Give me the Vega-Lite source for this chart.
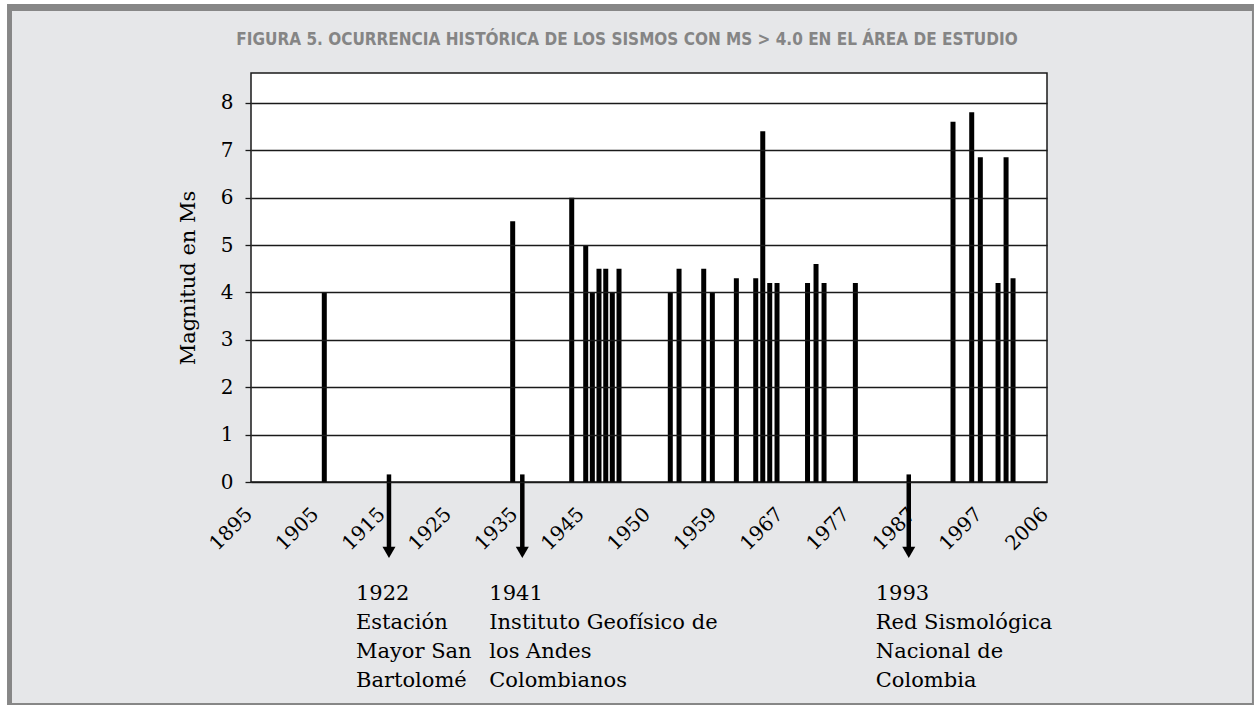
{
  "$schema": "https://vega.github.io/schema/vega-lite/v6.json",
  "autosize": "none",
  "width": 796,
  "height": 409,
  "padding": {"left": 251, "top": 73, "right": 207, "bottom": 223},
  "background": "#ffffff",
  "config": {
    "view": {"stroke": "#1a1a1a", "strokeWidth": 1.5},
    "font": "DejaVu Serif"
  },
  "title": {
    "text": "FIGURA 5. OCURRENCIA HISTÓRICA DE LOS SISMOS CON MS > 4.0 EN EL ÁREA DE ESTUDIO",
    "font": "DejaVu Sans Condensed, Liberation Sans Narrow, DejaVu Sans",
    "fontSize": 17,
    "fontWeight": "bold",
    "color": "#858585",
    "anchor": "middle",
    "frame": "group",
    "baseline": "alphabetic",
    "offset": -58,
    "dx": -22,
    "zindex": 2
  },
  "datasets": {
    "quakes": [
      {"pos": 1.105, "ms": 4.0},
      {"pos": 3.945, "ms": 5.5},
      {"pos": 4.835, "ms": 6.0},
      {"pos": 5.046, "ms": 5.0},
      {"pos": 5.146, "ms": 4.0},
      {"pos": 5.246, "ms": 4.5},
      {"pos": 5.348, "ms": 4.5},
      {"pos": 5.447, "ms": 4.0},
      {"pos": 5.548, "ms": 4.5},
      {"pos": 6.321, "ms": 4.0},
      {"pos": 6.453, "ms": 4.5},
      {"pos": 6.825, "ms": 4.5},
      {"pos": 6.955, "ms": 4.0},
      {"pos": 7.317, "ms": 4.3},
      {"pos": 7.609, "ms": 4.3},
      {"pos": 7.715, "ms": 7.4},
      {"pos": 7.82, "ms": 4.2},
      {"pos": 7.93, "ms": 4.2},
      {"pos": 8.39, "ms": 4.2},
      {"pos": 8.518, "ms": 4.6},
      {"pos": 8.639, "ms": 4.2},
      {"pos": 9.111, "ms": 4.2},
      {"pos": 10.583, "ms": 7.6},
      {"pos": 10.865, "ms": 7.8},
      {"pos": 10.995, "ms": 6.85},
      {"pos": 11.262, "ms": 4.2},
      {"pos": 11.383, "ms": 6.85},
      {"pos": 11.488, "ms": 4.3}
    ],
    "events": [
      {"year": 1922, "pos": 2.08, "label": ["1922", "Estación", "Mayor San", "Bartolomé"]},
      {"year": 1941, "pos": 4.09, "label": ["1941", "Instituto Geofísico de", "los Andes", "Colombianos"]},
      {"year": 1993, "pos": 9.916, "label": ["1993", "Red Sismológica", "Nacional de", "Colombia"]}
    ]
  },
  "layer": [
    {
      "data": {"values": [{}]},
      "mark": {"type": "rect", "fill": "#878787", "clip": false},
      "encoding": {
        "x": {"datum": -3.678, "type": "quantitative", "scale": {"domain": [0, 12], "nice": false, "zero": false, "padding": 0},
          "axis": {"values": [0, 1, 2, 3, 4, 5, 6, 7, 8, 9, 10, 11, 12], "labelExpr": "['1895','1905','1915','1925','1935','1945','1950','1959','1967','1977','1987','1997','2006'][datum.value]", "labelAngle": -45, "labelAlign": "right", "labelBaseline": "alphabetic", "labelOffset": 2, "labelFont": "DejaVu Serif", "labelFontSize": 20, "labelColor": "#000000", "labelPadding": 33, "labelFlush": false, "labelOverlap": false, "labelBound": false, "ticks": false, "domain": false, "grid": false, "title": null, "zindex": 1}},
        "x2": {"datum": 15.12},
        "y": {"datum": 10.087, "type": "quantitative", "scale": {"domain": [0, 8.63], "nice": false, "zero": false, "padding": 0},
          "axis": {"values": [0, 1, 2, 3, 4, 5, 6, 7, 8], "title": "Magnitud en Ms", "titleFont": "DejaVu Serif", "titleFontSize": 21, "titleFontWeight": "normal", "titleColor": "#000000", "titlePadding": 22, "labelFont": "DejaVu Serif", "labelFontSize": 20, "labelColor": "#000000", "labelPadding": 12, "tickSize": 6, "tickColor": "#1a1a1a", "tickWidth": 1.3, "domain": false, "grid": true, "gridColor": "#1a1a1a", "gridWidth": 1.3, "gridOpacity": 1, "zindex": 1}},
        "y2": {"datum": -4.706}
      }
    },
    {
      "data": {"values": [{}]},
      "mark": {"type": "rect", "fill": "#e6e7e9", "clip": false},
      "encoding": {
        "x": {"datum": -3.603, "type": "quantitative", "scale": {"domain": [0, 12], "nice": false, "zero": false, "padding": 0},
          "axis": {"values": [0, 1, 2, 3, 4, 5, 6, 7, 8, 9, 10, 11, 12], "labelExpr": "['1895','1905','1915','1925','1935','1945','1950','1959','1967','1977','1987','1997','2006'][datum.value]", "labelAngle": -45, "labelAlign": "right", "labelBaseline": "alphabetic", "labelOffset": 2, "labelFont": "DejaVu Serif", "labelFontSize": 20, "labelColor": "#000000", "labelPadding": 33, "labelFlush": false, "labelOverlap": false, "labelBound": false, "ticks": false, "domain": false, "grid": false, "title": null, "zindex": 1}},
        "x2": {"datum": 15.09},
        "y": {"datum": 9.94, "type": "quantitative", "scale": {"domain": [0, 8.63], "nice": false, "zero": false, "padding": 0},
          "axis": {"values": [0, 1, 2, 3, 4, 5, 6, 7, 8], "title": "Magnitud en Ms", "titleFont": "DejaVu Serif", "titleFontSize": 21, "titleFontWeight": "normal", "titleColor": "#000000", "titlePadding": 22, "labelFont": "DejaVu Serif", "labelFontSize": 20, "labelColor": "#000000", "labelPadding": 12, "tickSize": 6, "tickColor": "#1a1a1a", "tickWidth": 1.3, "domain": false, "grid": true, "gridColor": "#1a1a1a", "gridWidth": 1.3, "gridOpacity": 1, "zindex": 1}},
        "y2": {"datum": -4.663}
      }
    },
    {
      "data": {"values": [{}]},
      "mark": {"type": "rect", "fill": "#ffffff", "stroke": "#1a1a1a", "strokeWidth": 1.5, "clip": false},
      "encoding": {
        "x": {"datum": 0, "type": "quantitative", "scale": {"domain": [0, 12], "nice": false, "zero": false, "padding": 0},
          "axis": {"values": [0, 1, 2, 3, 4, 5, 6, 7, 8, 9, 10, 11, 12], "labelExpr": "['1895','1905','1915','1925','1935','1945','1950','1959','1967','1977','1987','1997','2006'][datum.value]", "labelAngle": -45, "labelAlign": "right", "labelBaseline": "alphabetic", "labelOffset": 2, "labelFont": "DejaVu Serif", "labelFontSize": 20, "labelColor": "#000000", "labelPadding": 33, "labelFlush": false, "labelOverlap": false, "labelBound": false, "ticks": false, "domain": false, "grid": false, "title": null, "zindex": 1}},
        "x2": {"datum": 12},
        "y": {"datum": 8.63, "type": "quantitative", "scale": {"domain": [0, 8.63], "nice": false, "zero": false, "padding": 0},
          "axis": {"values": [0, 1, 2, 3, 4, 5, 6, 7, 8], "title": "Magnitud en Ms", "titleFont": "DejaVu Serif", "titleFontSize": 21, "titleFontWeight": "normal", "titleColor": "#000000", "titlePadding": 22, "labelFont": "DejaVu Serif", "labelFontSize": 20, "labelColor": "#000000", "labelPadding": 12, "tickSize": 6, "tickColor": "#1a1a1a", "tickWidth": 1.3, "domain": false, "grid": true, "gridColor": "#1a1a1a", "gridWidth": 1.3, "gridOpacity": 1, "zindex": 1}},
        "y2": {"datum": 0}
      }
    },
    {
      "data": {"name": "quakes"},
      "mark": {"type": "bar", "width": 5, "color": "#000000", "clip": false},
      "encoding": {
        "x": {"field": "pos", "type": "quantitative", "scale": {"domain": [0, 12], "nice": false, "zero": false, "padding": 0},
          "axis": {"values": [0, 1, 2, 3, 4, 5, 6, 7, 8, 9, 10, 11, 12], "labelExpr": "['1895','1905','1915','1925','1935','1945','1950','1959','1967','1977','1987','1997','2006'][datum.value]", "labelAngle": -45, "labelAlign": "right", "labelBaseline": "alphabetic", "labelOffset": 2, "labelFont": "DejaVu Serif", "labelFontSize": 20, "labelColor": "#000000", "labelPadding": 33, "labelFlush": false, "labelOverlap": false, "labelBound": false, "ticks": false, "domain": false, "grid": false, "title": null, "zindex": 1}},
        "y": {"field": "ms", "type": "quantitative", "scale": {"domain": [0, 8.63], "nice": false, "zero": false, "padding": 0},
          "axis": {"values": [0, 1, 2, 3, 4, 5, 6, 7, 8], "title": "Magnitud en Ms", "titleFont": "DejaVu Serif", "titleFontSize": 21, "titleFontWeight": "normal", "titleColor": "#000000", "titlePadding": 22, "labelFont": "DejaVu Serif", "labelFontSize": 20, "labelColor": "#000000", "labelPadding": 12, "tickSize": 6, "tickColor": "#1a1a1a", "tickWidth": 1.3, "domain": false, "grid": true, "gridColor": "#1a1a1a", "gridWidth": 1.3, "gridOpacity": 1, "zindex": 1}},
        "y2": {"datum": 0}
      }
    },
    {
      "data": {"name": "events"},
      "mark": {"type": "rule", "color": "#000000", "strokeWidth": 4.5, "clip": false},
      "encoding": {
        "x": {"field": "pos", "type": "quantitative", "scale": {"domain": [0, 12], "nice": false, "zero": false, "padding": 0},
          "axis": {"values": [0, 1, 2, 3, 4, 5, 6, 7, 8, 9, 10, 11, 12], "labelExpr": "['1895','1905','1915','1925','1935','1945','1950','1959','1967','1977','1987','1997','2006'][datum.value]", "labelAngle": -45, "labelAlign": "right", "labelBaseline": "alphabetic", "labelOffset": 2, "labelFont": "DejaVu Serif", "labelFontSize": 20, "labelColor": "#000000", "labelPadding": 33, "labelFlush": false, "labelOverlap": false, "labelBound": false, "ticks": false, "domain": false, "grid": false, "title": null, "zindex": 1}},
        "y": {"datum": 0.16, "type": "quantitative", "scale": {"domain": [0, 8.63], "nice": false, "zero": false, "padding": 0},
          "axis": {"values": [0, 1, 2, 3, 4, 5, 6, 7, 8], "title": "Magnitud en Ms", "titleFont": "DejaVu Serif", "titleFontSize": 21, "titleFontWeight": "normal", "titleColor": "#000000", "titlePadding": 22, "labelFont": "DejaVu Serif", "labelFontSize": 20, "labelColor": "#000000", "labelPadding": 12, "tickSize": 6, "tickColor": "#1a1a1a", "tickWidth": 1.3, "domain": false, "grid": true, "gridColor": "#1a1a1a", "gridWidth": 1.3, "gridOpacity": 1, "zindex": 1}},
        "y2": {"datum": -1.42}
      }
    },
    {
      "data": {"name": "events"},
      "mark": {"type": "point", "shape": "triangle-down", "filled": true, "color": "#000000", "opacity": 1, "size": 169, "clip": false},
      "encoding": {
        "x": {"field": "pos", "type": "quantitative", "scale": {"domain": [0, 12], "nice": false, "zero": false, "padding": 0},
          "axis": {"values": [0, 1, 2, 3, 4, 5, 6, 7, 8, 9, 10, 11, 12], "labelExpr": "['1895','1905','1915','1925','1935','1945','1950','1959','1967','1977','1987','1997','2006'][datum.value]", "labelAngle": -45, "labelAlign": "right", "labelBaseline": "alphabetic", "labelOffset": 2, "labelFont": "DejaVu Serif", "labelFontSize": 20, "labelColor": "#000000", "labelPadding": 33, "labelFlush": false, "labelOverlap": false, "labelBound": false, "ticks": false, "domain": false, "grid": false, "title": null, "zindex": 1}},
        "y": {"datum": -1.486, "type": "quantitative", "scale": {"domain": [0, 8.63], "nice": false, "zero": false, "padding": 0},
          "axis": {"values": [0, 1, 2, 3, 4, 5, 6, 7, 8], "title": "Magnitud en Ms", "titleFont": "DejaVu Serif", "titleFontSize": 21, "titleFontWeight": "normal", "titleColor": "#000000", "titlePadding": 22, "labelFont": "DejaVu Serif", "labelFontSize": 20, "labelColor": "#000000", "labelPadding": 12, "tickSize": 6, "tickColor": "#1a1a1a", "tickWidth": 1.3, "domain": false, "grid": true, "gridColor": "#1a1a1a", "gridWidth": 1.3, "gridOpacity": 1, "zindex": 1}}
      }
    },
    {
      "data": {"name": "events"},
      "mark": {"type": "text", "align": "left", "baseline": "alphabetic", "font": "DejaVu Serif", "fontSize": 21, "lineHeight": 29, "color": "#000000", "dx": -33, "clip": false},
      "encoding": {
        "x": {"field": "pos", "type": "quantitative", "scale": {"domain": [0, 12], "nice": false, "zero": false, "padding": 0},
          "axis": {"values": [0, 1, 2, 3, 4, 5, 6, 7, 8, 9, 10, 11, 12], "labelExpr": "['1895','1905','1915','1925','1935','1945','1950','1959','1967','1977','1987','1997','2006'][datum.value]", "labelAngle": -45, "labelAlign": "right", "labelBaseline": "alphabetic", "labelOffset": 2, "labelFont": "DejaVu Serif", "labelFontSize": 20, "labelColor": "#000000", "labelPadding": 33, "labelFlush": false, "labelOverlap": false, "labelBound": false, "ticks": false, "domain": false, "grid": false, "title": null, "zindex": 1}},
        "y": {"datum": -2.49, "type": "quantitative", "scale": {"domain": [0, 8.63], "nice": false, "zero": false, "padding": 0},
          "axis": {"values": [0, 1, 2, 3, 4, 5, 6, 7, 8], "title": "Magnitud en Ms", "titleFont": "DejaVu Serif", "titleFontSize": 21, "titleFontWeight": "normal", "titleColor": "#000000", "titlePadding": 22, "labelFont": "DejaVu Serif", "labelFontSize": 20, "labelColor": "#000000", "labelPadding": 12, "tickSize": 6, "tickColor": "#1a1a1a", "tickWidth": 1.3, "domain": false, "grid": true, "gridColor": "#1a1a1a", "gridWidth": 1.3, "gridOpacity": 1, "zindex": 1}},
        "text": {"field": "label"}
      }
    }
  ]
}
